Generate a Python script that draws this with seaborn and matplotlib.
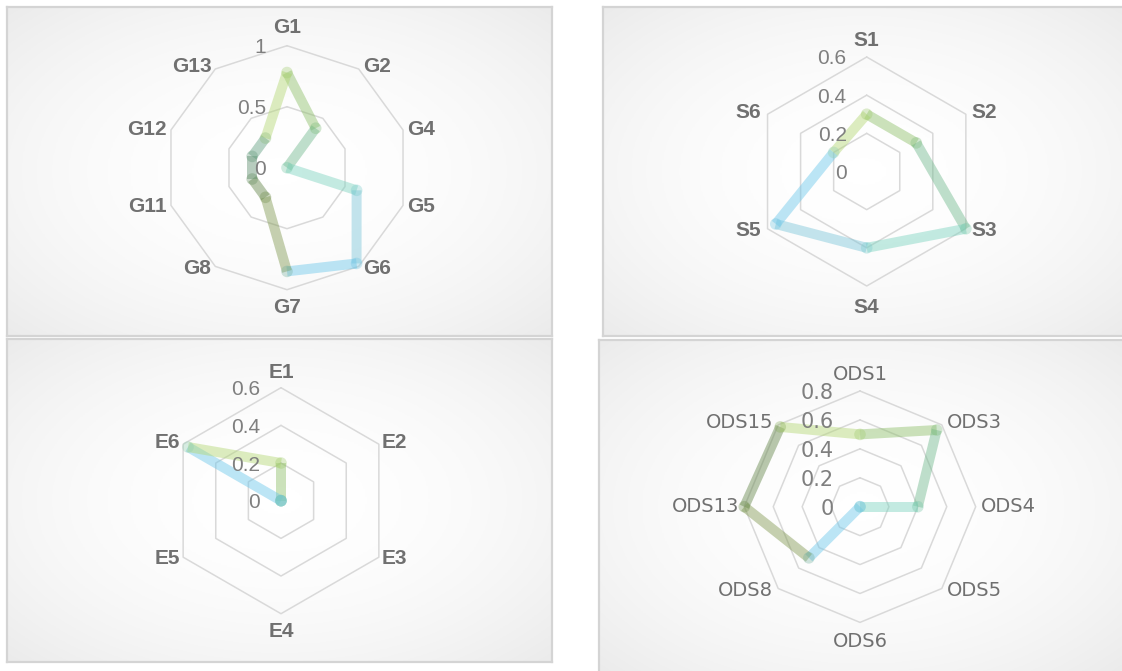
# --- IMPORT SECTION ---
import numpy as np  # calcoli sugli angoli e sul gradiente di sfondo
import pandas as pd  # tabelle per seaborn
import matplotlib
matplotlib.use('Agg')
import matplotlib.pyplot as plt
from matplotlib import font_manager
from matplotlib.colors import LinearSegmentedColormap, to_rgb, to_hex
import seaborn as sns

# --- DATI ---
# Pannello G
g_labels = ['G1', 'G2', 'G4', 'G5', 'G6', 'G7', 'G8', 'G11', 'G12', 'G13']
g_values = [0.78, 0.40, 0.0, 0.60, 0.97, 0.85, 0.30, 0.30, 0.30, 0.30]
g_ticks = [0, 0.5, 1]

# Pannello S
s_labels = ['S1', 'S2', 'S3', 'S4', 'S5', 'S6']
s_values = [0.30, 0.30, 0.60, 0.40, 0.55, 0.20]
s_ticks = [0, 0.2, 0.4, 0.6]

# Pannello E
e_labels = ['E1', 'E2', 'E3', 'E4', 'E5', 'E6']
e_values = [0.20, 0.0, 0.0, 0.0, 0.0, 0.57]
e_ticks = [0, 0.2, 0.4, 0.6]

# Pannello ODS
ods_labels = ['ODS1', 'ODS3', 'ODS4', 'ODS5', 'ODS6', 'ODS8', 'ODS13', 'ODS15']
ods_values = [0.50, 0.75, 0.40, 0.0, 0.0, 0.50, 0.80, 0.78]
ods_ticks = [0, 0.2, 0.4, 0.6, 0.8]

# --- STILE ---
# colori dei segmenti della linea (in ordine lungo il percorso) + segmento di chiusura
seg_colors = ['#8dbf69', '#71b98d', '#7bd3bf', '#7bc5d9', '#6bc7eb',
              '#819951', '#64864a', '#619171', '#619f81']
closing_color = '#b3d773'
grid_color = '#d9d9d9'
label_color = '#707070'
tick_color = '#7f7f7f'

W, H = 1122, 671

sns.set_theme(style='white')


def pick_font(*names):
    # primo font installato della lista
    for n in names:
        try:
            font_manager.findfont(font_manager.FontProperties(family=n), fallback_to_default=False)
            return n
        except ValueError:
            pass
    return 'DejaVu Sans'


narrow = pick_font('Liberation Sans Narrow', 'Liberation Sans')
arial = pick_font('Liberation Sans', 'DejaVu Sans')
plt.rcParams['font.family'] = [arial, 'DejaVu Sans']

fig = plt.figure(figsize=(W / 100, H / 100), dpi=100)
fig.patch.set_facecolor('white')

bg_cmap = LinearSegmentedColormap.from_list('bg', ['#ffffff', '#ebebeb'])


def draw_panel(x0, y0, x1, y1):
    # riquadro con gradiente radiale e bordo grigio
    ax = fig.add_axes([x0 / W, 1 - y1 / H, (x1 - x0) / W, (y1 - y0) / H], zorder=0)
    yy, xx = np.mgrid[-1:1:200j, -1:1:300j]
    d = np.sqrt(xx ** 2 + yy ** 2) / np.sqrt(2)
    ax.imshow(d ** 2.0, cmap=bg_cmap, vmin=0, vmax=1, aspect='auto', extent=(0, 1, 0, 1))
    ax.set_xticks([])
    ax.set_yticks([])
    for sp in ax.spines.values():
        sp.set_color('#d4d4d4')
        sp.set_linewidth(1.6)


def draw_radar(cx, cy, R, labels, values, ticks, lab_font, tick_font, tick_dx, pads):
    n = len(labels)
    rmax = ticks[-1]
    ax = fig.add_axes([(cx - R) / W, 1 - (cy + R) / H, 2 * R / W, 2 * R / H],
                      projection='polar', zorder=2)
    ax.set_theta_zero_location('N')
    ax.set_theta_direction(-1)
    ax.set_ylim(0, rmax)
    ax.grid(False)
    ax.set_xticks([])
    ax.set_yticks([])
    ax.spines['polar'].set_visible(False)
    ax.patch.set_alpha(0)

    theta = np.arange(n) * 2 * np.pi / n
    closed = np.append(theta, theta[0])
    # griglia poligonale
    for t in ticks[1:]:
        ax.plot(closed, [t] * (n + 1), color=grid_color, lw=1.1, zorder=1, clip_on=False)

    # segmenti della serie, un colore per segmento
    rows = []
    pal = {}
    for i in range(n):
        j = (i + 1) % n
        key = f'seg{i}'
        rows.append({'theta': theta[i], 'r': values[i], 'seg': key})
        rows.append({'theta': theta[j] if j else 2 * np.pi, 'r': values[j], 'seg': key})
        pal[key] = closing_color if i == n - 1 else seg_colors[i]
    seg_df = pd.DataFrame(rows)
    sns.lineplot(data=seg_df, x='theta', y='r', hue='seg', palette=pal, sort=False,
                 estimator=None, legend=False, ax=ax, lw=7.2, alpha=0.45,
                 solid_capstyle='butt', clip_on=False, zorder=3)

    # marcatori: colore medio tra segmento entrante e uscente
    keys = list(pal.keys())
    pt_pal = {}
    for i in range(n):
        a = np.array(to_rgb(pal[keys[i - 1]]))
        b = np.array(to_rgb(pal[keys[i]]))
        pt_pal[labels[i]] = to_hex((a + b) / 2)
    pts = pd.DataFrame({'theta': theta, 'r': values, 'pt': labels})
    sns.scatterplot(data=pts, x='theta', y='r', hue='pt', palette=pt_pal, s=70,
                    alpha=0.35, linewidth=0, legend=False, ax=ax, clip_on=False, zorder=4)
    ax.set_xlabel('')
    ax.set_ylabel('')
    ax.set_ylim(0, rmax)

    # etichette delle categorie
    side, top, bottom = pads
    for th, lab in zip(theta, labels):
        sx, cyy = np.sin(th), np.cos(th)
        if abs(sx) < 0.1:
            ha = 'center'
        elif sx > 0:
            ha = 'left'
        else:
            ha = 'right'
        if cyy > 0.95:
            va, dy = 'bottom', top
        elif cyy < -0.95:
            va, dy = 'top', -bottom
        else:
            va, dy = 'center', cyy * 3
        dx = 0 if ha == 'center' else side * np.sign(sx)
        ax.annotate(lab, xy=(th, rmax), xytext=(dx * 0.72, dy * 0.72), textcoords='offset points',
                    ha=ha, va=va, color=label_color, annotation_clip=False, **lab_font)

    # etichette dei valori sull'asse verticale
    for t in ticks:
        ax.annotate(f'{t:g}', xy=(0, t), xytext=(-tick_dx * 0.72, 0), textcoords='offset points',
                    ha='right', va='center_baseline', color=tick_color,
                    annotation_clip=False, **tick_font)


# --- RIQUADRI ---
draw_panel(7, 7, 552, 336)
draw_panel(603, 7, 1124, 336)
draw_panel(7, 339, 552, 662)
draw_panel(599, 340, 1124, 673)

bold_font = {'family': [arial, 'DejaVu Sans'], 'fontsize': 15, 'fontweight': 'bold'}
narrow_font = {'family': [narrow, 'DejaVu Sans'], 'fontsize': 15}
ods_font = {'family': ['DejaVu Sans'], 'fontsize': 14}
ods_tick_font = {'family': ['DejaVu Sans'], 'fontsize': 15}

draw_radar(287, 167.7, 122, g_labels, g_values, g_ticks, bold_font, narrow_font, 21, (4, 9, 8))
draw_radar(866.7, 171.5, 114.5, s_labels, s_values, s_ticks, bold_font, narrow_font, 20, (6, 7, 12))
draw_radar(281, 500.7, 113, e_labels, e_values, e_ticks, bold_font, narrow_font, 21, (3, 6, 8))
draw_radar(860, 506.7, 115.7, ods_labels, ods_values, ods_ticks, ods_font, ods_tick_font, 26, (5, 7.5, 10))

fig.savefig('out.png', dpi=100)
